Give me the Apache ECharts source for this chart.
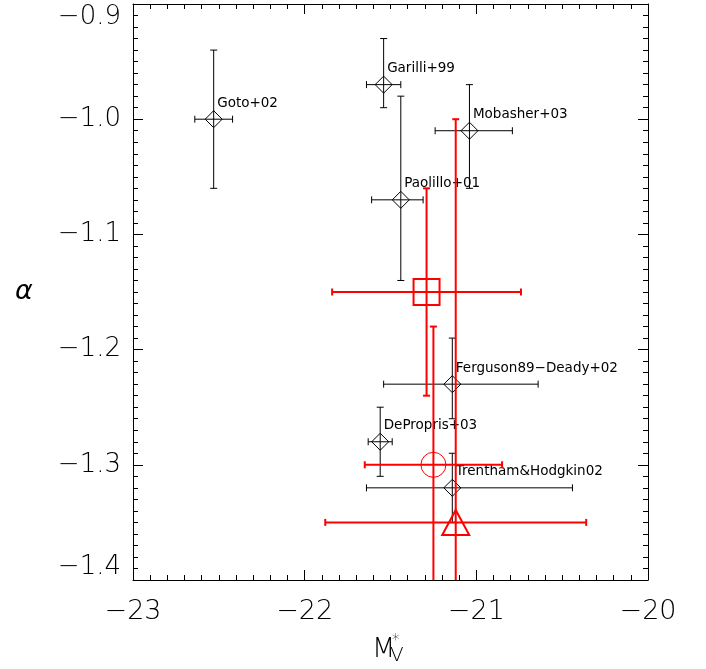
<!DOCTYPE html>
<html>
<head>
<meta charset="utf-8">
<script src="https://cdn.jsdelivr.net/npm/echarts@6/dist/echarts.min.js"></script>
<style>
  html, body { margin: 0; padding: 0; background: #fff; }
  #chart { width: 706px; height: 669px; }
</style>
</head>
<body>
<div id="chart"></div>
<script>
// Published Schechter-fit results: characteristic magnitude M*_V and faint-end slope alpha
const refNames = ['Goto+02', 'Garilli+99', 'Paolillo+01', 'Mobasher+03',
                  'Ferguson89\u2212Deady+02', 'DePropris+03', 'Trentham&Hodgkin02'];
const refMag    = [-22.53, -21.54, -21.44, -21.04, -21.14, -21.56, -21.14];
const refMagLo  = [0.11, 0.10, 0.17, 0.20, 0.40, 0.07, 0.50];
const refMagHi  = [0.11, 0.10, 0.13, 0.25, 0.50, 0.07, 0.70];
const refAlpha   = [-1.00, -0.97, -1.07, -1.01, -1.23, -1.28, -1.32];
const refAlphaLo = [0.06, 0.02, 0.07, 0.05, 0.03, 0.03, 0.03];
const refAlphaHi = [0.06, 0.04, 0.09, 0.04, 0.04, 0.03, 0.03];

// New fits (square, circle, triangle)
const fitSymbols  = ['square', 'circle', 'triangle'];
const fitMag      = [-21.29, -21.25, -21.12];
const fitMagErr   = [0.55, 0.40, 0.76];
const fitAlpha    = [-1.15, -1.30, -1.35];
const fitAlphaErr = [0.09, 0.12, 0.35];

// Axis ranges and tick steps
const magRange = [-23, -20];
const magStep = 1;
const alphaRange = [-1.4, -0.9];
const alphaStep = 0.1;

const refData = refMag.map((m, i) => [m, refAlpha[i], m - refMagLo[i], m + refMagHi[i],
  refAlpha[i] - refAlphaLo[i], refAlpha[i] + refAlphaHi[i]]);
const fitData = fitMag.map((m, i) => [m, fitAlpha[i], m - fitMagErr[i], m + fitMagErr[i],
  fitAlpha[i] - fitAlphaErr[i], fitAlpha[i] + fitAlphaErr[i]]);

const BLACK = '#000000';
const RED = '#ff0000';
const FONT = 'DejaVu Sans';

function minus(v, digits) {
  const s = Math.abs(v).toFixed(digits);
  return (v < 0 ? '\u2212' : '') + s;
}

function errorBars(api, color, width, cap) {
  const x = api.value(0), y = api.value(1);
  const c = api.coord([x, y]);
  const xl = api.coord([api.value(2), y]);
  const xh = api.coord([api.value(3), y]);
  const yl = api.coord([x, api.value(4)]);
  const yh = api.coord([x, api.value(5)]);
  const st = { stroke: color, lineWidth: width, fill: null };
  return [
    { type: 'line', shape: { x1: xl[0], y1: c[1], x2: xh[0], y2: c[1] }, style: st },
    { type: 'line', shape: { x1: xl[0], y1: c[1] - cap, x2: xl[0], y2: c[1] + cap }, style: st },
    { type: 'line', shape: { x1: xh[0], y1: c[1] - cap, x2: xh[0], y2: c[1] + cap }, style: st },
    { type: 'line', shape: { x1: c[0], y1: yl[1], x2: c[0], y2: yh[1] }, style: st },
    { type: 'line', shape: { x1: c[0] - cap, y1: yl[1], x2: c[0] + cap, y2: yl[1] }, style: st },
    { type: 'line', shape: { x1: c[0] - cap, y1: yh[1], x2: c[0] + cap, y2: yh[1] }, style: st }
  ];
}

function renderRef(params, api) {
  const c = api.coord([api.value(0), api.value(1)]);
  const d = 8.5;
  const children = errorBars(api, BLACK, 1, 3.5);
  children.push({
    type: 'polygon',
    shape: { points: [[c[0], c[1] - d], [c[0] + d, c[1]], [c[0], c[1] + d], [c[0] - d, c[1]]] },
    style: { stroke: BLACK, lineWidth: 1, fill: null }
  });
  children.push({
    type: 'text',
    x: c[0] + 3.5, y: c[1] - 16,
    style: {
      text: refNames[params.dataIndex], fill: BLACK,
      font: '13.5px "' + FONT + '"', align: 'left', verticalAlign: 'middle'
    }
  });
  return { type: 'group', children: children };
}

function renderFit(params, api) {
  const c = api.coord([api.value(0), api.value(1)]);
  const children = errorBars(api, RED, 2, 3.5);
  const kind = fitSymbols[params.dataIndex];
  if (kind === 'square') {
    children.push({ type: 'rect', shape: { x: c[0] - 13, y: c[1] - 13, width: 26, height: 26 },
      style: { stroke: RED, lineWidth: 2, fill: null } });
  } else if (kind === 'circle') {
    children.push({ type: 'circle', shape: { cx: c[0], cy: c[1], r: 12.5 },
      style: { stroke: RED, lineWidth: 1, fill: null } });
  } else {
    children.push({ type: 'polygon',
      shape: { points: [[c[0], c[1] - 12.5], [c[0] + 13.5, c[1] + 12.5], [c[0] - 13.5, c[1] + 12.5]] },
      style: { stroke: RED, lineWidth: 2, fill: null } });
  }
  return { type: 'group', children: children };
}

function axis(range, step, position, showLabel, fontSize, margin, extraLabel) {
  return {
    type: 'value',
    position: position,
    min: range[0], max: range[1], interval: step,
    axisLine: { show: true, onZero: false, lineStyle: { color: BLACK, width: 1 } },
    axisTick: { show: true, inside: true, length: 10, lineStyle: { color: BLACK, width: 1 } },
    minorTick: { show: true, splitNumber: 10, length: 5, lineStyle: { color: BLACK, width: 1 } },
    splitLine: { show: false },
    minorSplitLine: { show: false },
    axisLabel: Object.assign({
      show: showLabel, color: BLACK, fontFamily: FONT, fontWeight: 200,
      fontSize: fontSize, margin: margin,
      formatter: v => minus(v, step < 1 ? 1 : 0)
    }, extraLabel || {})
  };
}

const chart = echarts.init(document.getElementById('chart'), null, { renderer: 'canvas' });
const grid = { left: 133, top: 4, width: 515, height: 576 };

chart.setOption({
  animation: false,
  backgroundColor: '#ffffff',
  grid: Object.assign({ outerBoundsMode: 'none', containLabel: false }, grid),
  xAxis: [
    axis(magRange, magStep, 'bottom', true, 27, 18),
    axis(magRange, magStep, 'top', false, 27, 18)
  ],
  yAxis: [
    axis(alphaRange, alphaStep, 'left', true, 26, 12,
      { verticalAlignMinLabel: 'bottom', verticalAlignMaxLabel: 'top' }),
    axis(alphaRange, alphaStep, 'right', false, 26, 12)
  ],
  series: [
    { type: 'custom', renderItem: renderRef, data: refData, clip: true, z: 2,
      encode: { x: 0, y: 1 } },
    { type: 'custom', renderItem: renderFit, data: fitData, clip: true, z: 3,
      encode: { x: 0, y: 1 } }
  ],
  graphic: [
    { type: 'text', left: 372, top: 636,
      style: { text: 'M', font: '200 27px "' + FONT + '"', fill: BLACK } },
    { type: 'text', left: 392, top: 634,
      style: { text: '*', font: '200 15px "' + FONT + '"', fill: BLACK } },
    { type: 'text', left: 390, top: 646,
      style: { text: 'V', font: '200 20px "' + FONT + '"', fill: BLACK } },
    { type: 'text', left: 15, top: 278,
      style: { text: '\u03b1', font: 'italic 200 27px "' + FONT + '"', fill: BLACK } }
  ]
});
</script>
</body>
</html>
